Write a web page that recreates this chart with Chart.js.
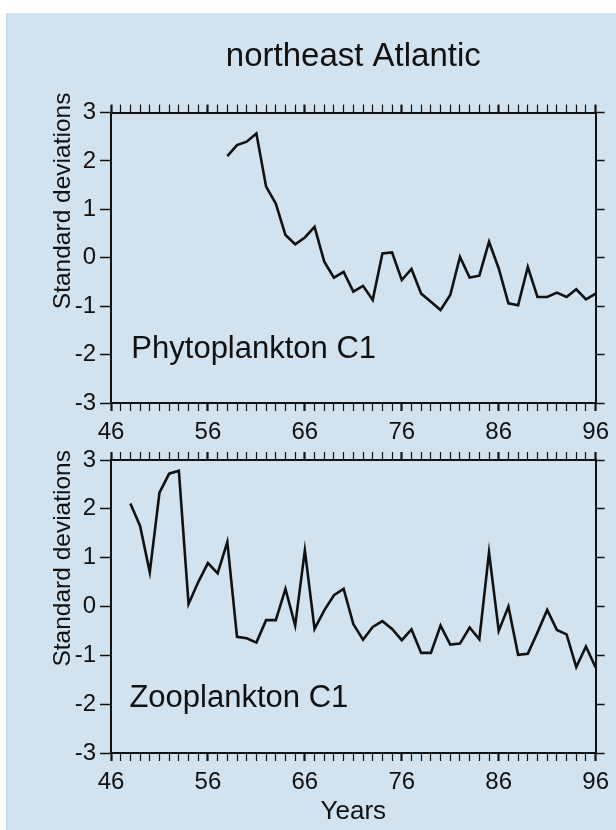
<!DOCTYPE html>
<html><head><meta charset="utf-8">
<script src="https://cdn.jsdelivr.net/npm/chart.js@4.4.1/dist/chart.umd.min.js"></script>
<style>
html,body{margin:0;padding:0;background:#fff;width:616px;height:830px;overflow:hidden;}
#bg{position:absolute;left:6px;top:13px;width:610px;height:817px;background:#d2e2ef;border-left:1px solid #bcd3e8;}
#w1{position:absolute;left:0;top:0;width:616px;height:450px;}
#w2{position:absolute;left:0;top:440px;width:616px;height:390px;}
</style></head><body>
<div id="bg"></div>
<div id="w1"><canvas id="c1"></canvas></div>
<div id="w2"><canvas id="c2"></canvas></div>
<script>
// ---- data ----
const xMajorTicks = [46, 56, 66, 76, 86, 96];
const xTickLabels = ['46', '56', '66', '76', '86', '96'];
const yTickLabels = ['-3', '-2', '-1', '0', '1', '2', '3'];

const phytoYears = [58,59,60,61,62,63,64,65,66,67,68,69,70,71,72,73,74,75,76,77,78,79,80,81,82,83,84,85,86,87,88,89,90,91,92,93,94,95,96];
const phytoValues = [2.10,2.33,2.40,2.57,1.47,1.12,0.47,0.28,0.42,0.64,-0.08,-0.41,-0.29,-0.70,-0.58,-0.87,0.09,0.11,-0.46,-0.23,-0.74,-0.91,-1.08,-0.77,0.02,-0.41,-0.37,0.33,-0.22,-0.94,-0.98,-0.19,-0.81,-0.81,-0.72,-0.81,-0.65,-0.86,-0.74];

const zooYears = [48,49,50,51,52,53,54,55,56,57,58,59,60,61,62,63,64,65,66,67,68,69,70,71,72,73,74,75,76,77,78,79,80,81,82,83,84,85,86,87,88,89,90,91,92,93,94,95,96];
const zooValues = [2.11,1.65,0.70,2.33,2.72,2.78,0.05,0.50,0.89,0.68,1.32,-0.62,-0.65,-0.74,-0.28,-0.28,0.36,-0.39,1.15,-0.46,-0.08,0.23,0.36,-0.36,-0.68,-0.42,-0.30,-0.46,-0.69,-0.47,-0.95,-0.95,-0.39,-0.78,-0.76,-0.43,-0.67,1.11,-0.50,0.00,-0.99,-0.97,-0.53,-0.07,-0.48,-0.57,-1.24,-0.82,-1.25];

const titleText = 'northeast Atlantic';
const yTitleText = 'Standard deviations';
const xTitleText = 'Years';
const phytoLabel = { text: 'Phytoplankton C1', atX: 48.1, atY: -2.08 };
const zooLabel = { text: 'Zooplankton C1', atX: 47.9, atY: -2.05 };

// ---- rendering ----
const FAMILY = '"Liberation Sans", Arial, Helvetica, sans-serif';
Chart.defaults.font.family = FAMILY;
Chart.defaults.color = '#111';
const INK = '#111';

const panelLabel = {
  id: 'panelLabel',
  afterDatasetsDraw(chart, args, opts) {
    if (!opts || !opts.text) return;
    const { ctx, scales } = chart;
    ctx.save();
    ctx.font = '31px ' + FAMILY;
    ctx.fillStyle = INK;
    ctx.textBaseline = 'alphabetic';
    ctx.textAlign = 'left';
    ctx.fillText(opts.text, scales.x.getPixelForValue(opts.atX), scales.y.getPixelForValue(opts.atY));
    ctx.restore();
  }
};

// rotated y-axis title, anchored to the top of the y scale
const yTitle = {
  id: 'yTitle',
  afterDraw(chart, args, opts) {
    if (!opts || !opts.text) return;
    const { ctx, scales } = chart;
    ctx.save();
    ctx.font = '24.5px ' + FAMILY;
    ctx.fillStyle = INK;
    ctx.translate(scales.y.left + opts.x, scales.y.top - opts.endOffset);
    ctx.rotate(-Math.PI / 2);
    ctx.textAlign = 'right';
    ctx.textBaseline = 'middle';
    ctx.fillText(opts.text, 0, 0);
    ctx.restore();
  }
};

function isMajor(v) { return xMajorTicks.indexOf(v) !== -1; }

function makeChart(id, years, values, label, opts) {
  const xAxis = {
    type: 'linear', position: 'bottom', min: 46, max: 96,
    afterFit: s => { s.height = opts.xHeight; },
    border: { display: true, color: INK, width: 2 },
    grid: { drawOnChartArea: false, color: INK, tickLength: 8,
            tickWidth: c => (c.tick && isMajor(c.tick.value)) ? 2.2 : 1.2 },
    ticks: { stepSize: 1, autoSkip: false, maxRotation: 0, padding: 7,
             font: { size: 24 }, color: INK,
             callback: v => { const i = xMajorTicks.indexOf(v); return i === -1 ? '' : xTickLabels[i]; } },
    title: opts.xTitle ? { display: true, text: xTitleText, font: { size: 26 }, color: INK, padding: { top: 0, bottom: 3 } } : { display: false }
  };
  const x2Axis = {
    type: 'linear', position: 'top', min: 46, max: 96,
    afterFit: s => { s.height = 10; },
    border: { display: true, color: INK, width: 2 },
    grid: { drawOnChartArea: false, color: INK, tickLength: 8,
            tickWidth: c => (c.tick && isMajor(c.tick.value)) ? 2.2 : 1.2 },
    ticks: { stepSize: 1, autoSkip: false, display: false }
  };
  const yAxis = {
    type: 'linear', position: 'left', min: -3, max: 3,
    afterFit: s => { s.width = 111; },
    border: { display: true, color: INK, width: 2 },
    grid: { drawOnChartArea: false, color: INK, tickLength: 11, tickWidth: 1.5 },
    ticks: { stepSize: 1, padding: 4, font: { size: 24 }, color: INK,
             callback: v => yTickLabels[v + 3] }
  };
  const y2Axis = {
    type: 'linear', position: 'right', min: -3, max: 3,
    afterFit: s => { s.width = 16; },
    border: { display: true, color: INK, width: 2 },
    grid: { drawOnChartArea: false, color: INK, tickLength: 9, tickWidth: 1.5 },
    ticks: { stepSize: 1, display: false }
  };
  return new Chart(document.getElementById(id), {
    type: 'line',
    data: {
      datasets: [{
        data: years.map((yr, i) => ({ x: yr, y: values[i] })),
        borderColor: INK, borderWidth: 2.6, pointRadius: 0, fill: false, tension: 0,
        xAxisID: 'x', yAxisID: 'y'
      }]
    },
    options: {
      responsive: true, maintainAspectRatio: false, animation: false,
      layout: { padding: { top: opts.padTop, left: 0, right: 0, bottom: 0 } },
      scales: { x: xAxis, x2: x2Axis, y: yAxis, y2: y2Axis },
      plugins: {
        legend: { display: false }, tooltip: { enabled: false },
        title: opts.title ? { display: true, text: titleText, fullSize: false, font: { size: 33, weight: 'normal' }, color: INK, padding: { top: 0, bottom: 26 } } : { display: false },
        panelLabel: label,
        yTitle: { text: yTitleText, x: 63, endOffset: opts.yTitleEnd }
      }
    },
    plugins: [panelLabel, yTitle]
  });
}

makeChart('c1', phytoYears, phytoValues, phytoLabel, { padTop: 37, xHeight: 47, title: true, xTitle: false, yTitleEnd: 20 });
makeChart('c2', zooYears, zooValues, zooLabel, { padTop: 10, xHeight: 77, title: false, xTitle: true, yTitleEnd: 10 });
</script>
</body></html>
